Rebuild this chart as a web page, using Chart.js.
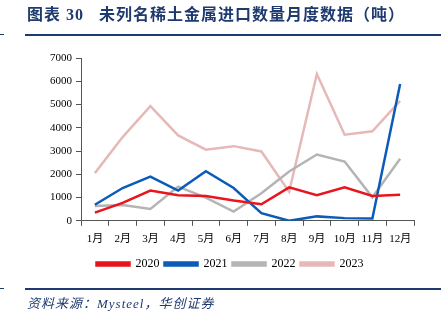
<!DOCTYPE html>
<html><head><meta charset="utf-8">
<script src="https://cdn.jsdelivr.net/npm/chart.js@4"></script>
<style>
html,body{margin:0;padding:0;background:#fff;}
#wrap{position:relative;width:448px;height:330px;overflow:hidden;}
#title{position:absolute;left:27px;top:6px;font-family:"Liberation Serif","Noto Sans CJK SC",serif;font-weight:bold;font-size:16px;line-height:18px;color:#1f3a6e;white-space:nowrap;letter-spacing:1px;}
#tline{position:absolute;left:25px;top:34px;width:416px;height:2px;background:#1f3a6e;}
#tmark{position:absolute;left:0;top:34px;width:4px;height:1px;background:#1f3a6e;}
#bline{position:absolute;left:25px;top:288px;width:416px;height:2px;background:#1f3a6e;}
#bmark{position:absolute;left:0;top:288px;width:4px;height:1px;background:#1f3a6e;}
#src{position:absolute;left:27px;top:296px;font-family:"Liberation Serif","Noto Sans CJK SC",serif;font-style:italic;font-size:13px;line-height:16px;color:#1f3a6e;white-space:nowrap;letter-spacing:1px;}
#c{position:absolute;left:0;top:0;}
</style></head>
<body><div id="wrap">
<canvas id="c" width="448" height="330"></canvas>
<div id="title">图表 30&nbsp;&nbsp;&nbsp;未列名稀土金属进口数量月度数据（吨）</div>
<div id="tmark"></div><div id="tline"></div>
<div id="bmark"></div><div id="bline"></div>
<div id="src">资料来源：Mysteel，华创证券</div>
</div>
<script>
const months = ["1月","2月","3月","4月","5月","6月","7月","8月","9月","10月","11月","12月"];
const s2020 = [350,770,1300,1100,1070,870,710,1440,1100,1440,1070,1120];
const s2021 = [690,1410,1900,1300,2130,1410,330,0,190,115,100,5880];
const s2022 = [640,680,510,1470,1000,400,1180,2120,2850,2550,1010,2670];
const s2023 = [2050,3600,4930,3670,3060,3210,2980,1250,6310,3700,3850,5160];
const yTicks = [0,1000,2000,3000,4000,5000,6000,7000];

const font = {family:'"Liberation Serif","Noto Sans CJK SC",serif', size:11};
function ds(label, data, color){
  return {label, data, borderColor:color, backgroundColor:color, borderWidth:2.5, pointRadius:0, tension:0, fill:false};
}
new Chart(document.getElementById('c'), {
  type:'line',
  data:{labels:months, datasets:[
    ds('2020', s2020, '#e8141e'),
    ds('2021', s2021, '#0a5cb8'),
    ds('2022', s2022, '#b4b4b4'),
    ds('2023', s2023, '#e6b9b8')
  ]},
  options:{
    responsive:false, animation:false, devicePixelRatio:1,
    layout:{padding:{top:58,left:46,right:34,bottom:50}},
    plugins:{
      legend:{position:'bottom', labels:{boxWidth:33, boxHeight:3, color:'#000', font:{...font, size:12}, padding:5}},
      tooltip:{enabled:false}, title:{display:false}
    },
    scales:{
      x:{offset:true, border:{color:'#555', width:1},
         grid:{display:true, drawOnChartArea:false, drawTicks:true, tickLength:5, color:'#555', offset:true},
         ticks:{color:'#000', font, maxRotation:0, autoSkip:false, padding:7}},
      y:{min:0, max:7000, border:{color:'#555', width:1},
         afterBuildTicks:(a)=>{a.ticks = yTicks.map(v=>({value:v}));},
         grid:{display:true, drawOnChartArea:false, drawTicks:true, tickLength:5, color:'#555'},
         ticks:{color:'#000', font, padding:4, callback:(v)=>String(v)}}
    }
  }
});
</script>
</body></html>
